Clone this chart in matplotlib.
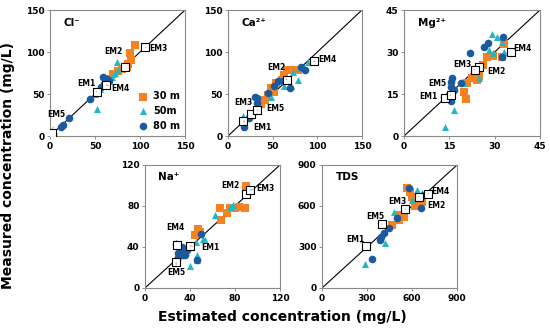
import matplotlib.pyplot as plt

# ---- data (mg/L) ----
ions = ["Cl⁻", "Ca²⁺", "Mg²⁺", "Na⁺", "TDS"]
limits = [150, 150, 45, 120, 900]
tick_sets = [[0, 50, 100, 150], [0, 50, 100, 150], [0, 15, 30, 45],
             [0, 40, 80, 120], [0, 300, 600, 900]]

# 30 m samples (estimated, measured)
cl_30x = [94, 89, 90, 87, 85, 80, 75, 70, 66, 62]
cl_30y = [108, 99, 90, 86, 82, 80, 77, 74, 68, 64]
ca_30x = [66, 63, 54, 48, 52, 45, 41, 37, 73, 78, 61]
ca_30y = [79, 73, 63, 57, 53, 49, 43, 38, 79, 79, 67]
mg_30x = [33, 29.6, 32.5, 26, 24.3, 22.6, 24.3, 21, 24.8, 19.9, 20.4, 27.4]
mg_30y = [32.9, 28.6, 28.3, 25.4, 23.2, 20.6, 20, 19, 21.4, 15.8, 13.1, 28.3]
na_30x = [90, 89, 80, 72.6, 66.7, 68, 47.4, 44.4, 49, 75.5, 84]
na_30y = [99, 77.7, 77.7, 72.8, 77.7, 66, 58, 51.7, 55, 77.7, 79]
tds_30x = [567, 589, 611, 667, 544, 511, 467, 522, 600, 620]
tds_30y = [729, 705, 656, 632, 522, 498, 461, 534, 668, 600]

# 50 m samples
cl_50x = [74, 76, 72, 69, 66, 52, 50, 55]
cl_50y = [88, 79, 75, 70, 66, 32, 50, 56]
ca_50x = [89.5, 80, 78, 73, 71, 63, 48.5, 17, 24]
ca_50y = [88.5, 80.6, 67, 76.6, 59, 59, 47, 24, 25]
mg_50x = [29.2, 30.9, 32.5, 33, 28, 29.5, 24.8, 20, 16.5, 13.5]
mg_50y = [36.4, 35.2, 33.7, 30, 30.7, 29.5, 20.6, 19, 9.3, 3.1]
na_50x = [78.5, 75.5, 62, 53, 46, 46, 40, 45, 52]
na_50y = [81, 79, 71, 47, 32, 27, 21, 45, 48]
tds_50x = [633, 667, 600, 478, 422, 289]
tds_50y = [717, 693, 644, 554, 327, 173]

# 80 m samples
cl_80x = [59, 63, 66, 60, 57, 44, 21, 14, 12, 3]
cl_80y = [70, 68, 66, 62, 58, 44, 21, 13, 11, 3]
ca_80x = [86, 82, 69, 61.5, 56, 52, 45, 32, 32, 30, 24, 18]
ca_80y = [78.6, 82.5, 57, 65, 65, 59, 51, 45, 39, 46, 21, 11]
mg_80x = [32.9, 32.5, 27.8, 26.5, 21.8, 18.8, 16, 15.4, 15.4, 16.5, 14.9, 15.4]
mg_80y = [35.5, 28.3, 33.1, 31.9, 29.5, 19, 20.6, 19.4, 17.6, 16.4, 14.6, 12.6]
na_80x = [50, 28, 32.6, 29.6, 34, 37, 29.6, 46.5, 32.6, 35.6]
na_80y = [53, 42.6, 40, 34, 32, 37, 30.5, 27.3, 35.5, 32]
tds_80x = [578, 678, 662, 500, 444, 411, 396, 389, 333]
tds_80y = [729, 680, 588, 510, 437, 400, 376, 351, 212]

# end members
em_names = ["EM1", "EM2", "EM3", "EM4", "EM5"]
cl_emx = [52, 83, 106, 62, 2]
cl_emy = [53, 82.5, 105.5, 61, 4]
ca_emx = [17, 66, 26, 96, 32.5]
ca_emy = [18, 67, 26, 89, 31]
mg_emx = [13.5, 24.8, 23.4, 35.5, 15.4]
mg_emy = [13.6, 24.5, 23.6, 30, 14.5]
na_emx = [40, 89.5, 93.3, 28.7, 27.6]
na_emy = [41, 91.4, 95.6, 42, 25]
tds_emx = [296, 644, 556, 704, 400]
tds_emy = [307, 668, 575, 688, 466]

# where the EM labels sit
cl_lab = [(40, 62), (70, 101), (120, 104), (78, 57), (7, 26)]
ca_lab = [(38, 10), (54, 82), (17, 40), (111, 91), (53, 33)]
mg_lab = [(8, 14), (30.5, 23.2), (19.3, 25.6), (39.2, 31.2), (11, 18.6)]
na_lab = [(58, 39), (75.5, 100), (107, 96.6), (26.7, 59), (28, 15.3)]
tds_lab = [(222, 358), (760, 602), (500, 632), (790, 705), (356, 522)]

panels = [
    (cl_30x, cl_30y, cl_50x, cl_50y, cl_80x, cl_80y, cl_emx, cl_emy, cl_lab),
    (ca_30x, ca_30y, ca_50x, ca_50y, ca_80x, ca_80y, ca_emx, ca_emy, ca_lab),
    (mg_30x, mg_30y, mg_50x, mg_50y, mg_80x, mg_80y, mg_emx, mg_emy, mg_lab),
    (na_30x, na_30y, na_50x, na_50y, na_80x, na_80y, na_emx, na_emy, na_lab),
    (tds_30x, tds_30y, tds_50x, tds_50y, tds_80x, tds_80y, tds_emx, tds_emy, tds_lab),
]

boxes = [
    [0.0909, 0.589, 0.2455, 0.3807],
    [0.4145, 0.589, 0.2436, 0.3807],
    [0.7345, 0.589, 0.2473, 0.3807],
    [0.2636, 0.130, 0.2455, 0.3716],
    [0.5855, 0.130, 0.2455, 0.3716],
]

c30, c50, c80 = "#F5821F", "#26B5C2", "#1C5AA0"

fig = plt.figure(figsize=(5.5, 3.31), dpi=100)

for i, (box, p) in enumerate(zip(boxes, panels)):
    x30, y30, x50, y50, x80, y80, emx, emy, lab = p
    lim = limits[i]
    ax = fig.add_axes(box)
    ax.plot([0, lim], [0, lim], color="black", lw=0.8, zorder=1)
    ax.scatter(x30, y30, marker="s", s=30, color=c30, lw=0, zorder=2, label="30 m")
    ax.scatter(x50, y50, marker="^", s=26, color=c50, lw=0, zorder=3, label="50m")
    ax.scatter(x80, y80, marker="o", s=30, color=c80, lw=0, zorder=4, label="80 m")
    ax.scatter(emx, emy, marker="s", s=32, facecolor="white", edgecolor="black",
               lw=0.8, zorder=6)
    for name, px, py, (tx, ty) in zip(em_names, emx, emy, lab):
        ax.annotate(name, xy=(px, py), xytext=(tx, ty), ha="center", va="center",
                    fontsize=5.5, fontweight="bold", zorder=7,
                    arrowprops=dict(arrowstyle="-", color="gray", lw=0.5,
                                    shrinkA=4, shrinkB=3))
    ax.set_xlim(0, lim)
    ax.set_ylim(0, lim)
    ax.set_xticks(tick_sets[i])
    ax.set_yticks(tick_sets[i])
    ax.tick_params(labelsize=6.5, length=2, width=0.6, pad=2, color="gray")
    for t in ax.get_xticklabels() + ax.get_yticklabels():
        t.set_fontweight("bold")
    for s in ax.spines.values():
        s.set_color("#888888")
        s.set_linewidth(0.8)
    ax.text(0.1, 0.9, ions[i], transform=ax.transAxes, fontsize=7.5,
            fontweight="bold", va="center")
    if i == 0:
        leg = ax.legend(loc="lower right", bbox_to_anchor=(1.02, -0.02),
                        frameon=False, fontsize=7, handletextpad=0.0,
                        labelspacing=0.5, borderpad=0.3, markerscale=1.0)
        for t in leg.get_texts():
            t.set_fontweight("bold")

fig.text(0.015, 0.5, "Measured concentration (mg/L)", rotation=90,
         ha="center", va="center", fontsize=10, fontweight="bold")
fig.text(0.513, 0.042, "Estimated concentration (mg/L)", ha="center",
         va="center", fontsize=10, fontweight="bold")

fig.savefig("out.png", dpi=100)
